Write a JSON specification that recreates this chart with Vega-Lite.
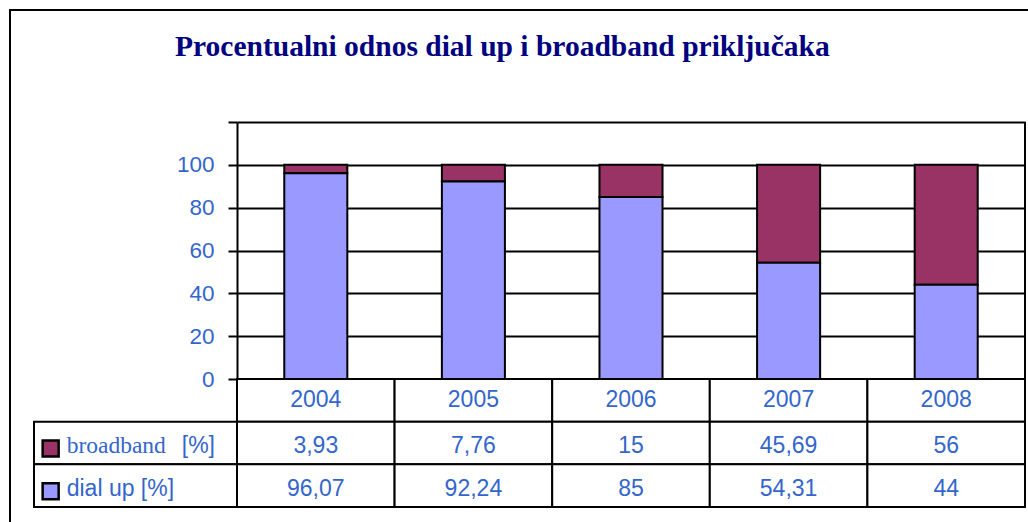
{
  "$schema": "https://vega.github.io/schema/vega-lite/v6.json",
  "width": 1040,
  "height": 530,
  "autosize": {"type": "none"},
  "padding": {"left": 10, "top": 10, "right": -22, "bottom": -18},
  "title": {
    "text": "Procentualni odnos dial up i broadband priključaka",
    "font": "Liberation Serif",
    "fontSize": 29.5,
    "fontWeight": "bold",
    "color": "#000080",
    "anchor": "start",
    "frame": "group",
    "baseline": "alphabetic",
    "offset": -75,
    "dx": 165
  },
  "data": {
    "values": [
      {"year": "2004", "series": "broadband [%]", "value": 3.93},
      {"year": "2004", "series": "dial up [%]", "value": 96.07},
      {"year": "2005", "series": "broadband [%]", "value": 7.76},
      {"year": "2005", "series": "dial up [%]", "value": 92.24},
      {"year": "2006", "series": "broadband [%]", "value": 15},
      {"year": "2006", "series": "dial up [%]", "value": 85},
      {"year": "2007", "series": "broadband [%]", "value": 45.69},
      {"year": "2007", "series": "dial up [%]", "value": 54.31},
      {"year": "2008", "series": "broadband [%]", "value": 56},
      {"year": "2008", "series": "dial up [%]", "value": 44}
    ]
  },
  "resolve": {
    "scale": {"x": "independent", "y": "independent"},
    "axis": {"x": "independent", "y": "independent"}
  },
  "layer": [
    {
      "mark": {"type": "bar", "width": {"band": 0.4}, "stroke": "black", "strokeWidth": 2},
      "encoding": {
        "x": {"field": "year", "type": "nominal", "axis": null,
          "scale": {"type": "band", "domain": ["2004","2005","2006","2007","2008"], "range": [227, 1015], "paddingInner": 0, "paddingOuter": 0}},
        "y": {"field": "value", "type": "quantitative", "stack": "zero",
          "scale": {"domain": [0, 120], "range": [369, 112], "nice": false, "zero": true},
          "axis": {
            "orient": "left", "offset": -227, "title": null,
            "values": [0, 20, 40, 60, 80, 100, 120],
            "labelExpr": "datum.value == 120 ? '' : datum.label",
            "grid": true, "gridColor": "black", "gridWidth": 2, "gridOpacity": 1,
            "domain": true, "domainColor": "black", "domainWidth": 2,
            "ticks": true, "tickColor": "black", "tickWidth": 2, "tickSize": 9,
            "labelFont": "Liberation Sans", "labelFontSize": 22.5, "labelColor": "#3366CC",
            "labelPadding": 14
          }},
        "color": {"field": "series", "type": "nominal", "legend": null,
          "scale": {"domain": ["dial up [%]", "broadband [%]"], "range": ["#9999FF", "#993366"]}},
        "order": {"field": "series", "sort": "descending"}
      }
    },
    {
      "transform": [{"filter": "datum.year == '2004' && datum.series == 'dial up [%]'"}],
      "mark": {"type": "rule", "stroke": "black", "strokeWidth": 2},
      "encoding": {
        "x": {"datum": "2008", "type": "nominal", "bandPosition": 1, "axis": null,
          "scale": {"type": "band", "domain": ["2004","2005","2006","2007","2008"], "range": [227, 1015], "paddingInner": 0, "paddingOuter": 0}},
        "y": {"datum": 0, "type": "quantitative", "axis": null,
          "scale": {"domain": [0, 120], "range": [369, 112], "nice": false, "zero": true}},
        "y2": {"datum": 120}
      }
    },
    {
      "transform": [{"filter": "datum.series == 'dial up [%]'"}],
      "mark": {"type": "rect", "fill": "white", "stroke": "black", "strokeWidth": 2},
      "encoding": {
        "x": {"field": "year", "type": "nominal", "axis": null,
          "scale": {"type": "band", "domain": ["2004","2005","2006","2007","2008"], "range": [227, 1015], "paddingInner": 0, "paddingOuter": 0}},
        "y": {"datum": "hdr", "type": "nominal", "axis": null,
          "scale": {"type": "band", "domain": ["hdr", "broadband [%]", "dial up [%]"], "range": [369, 497], "paddingInner": 0, "paddingOuter": 0}}
      }
    },
    {
      "mark": {"type": "rect", "fill": "white", "stroke": "black", "strokeWidth": 2},
      "encoding": {
        "x": {"field": "year", "type": "nominal", "axis": null,
          "scale": {"type": "band", "domain": ["2004","2005","2006","2007","2008"], "range": [227, 1015], "paddingInner": 0, "paddingOuter": 0}},
        "y": {"field": "series", "type": "nominal", "axis": null,
          "scale": {"type": "band", "domain": ["hdr", "broadband [%]", "dial up [%]"], "range": [369, 497], "paddingInner": 0, "paddingOuter": 0}}
      }
    },
    {
      "transform": [{"filter": "datum.year == '2004'"}],
      "mark": {"type": "rect", "fill": "white", "stroke": "black", "strokeWidth": 2},
      "encoding": {
        "x": {"datum": "legend", "type": "nominal", "axis": null,
          "scale": {"type": "band", "domain": ["legend"], "range": [24, 227], "paddingInner": 0, "paddingOuter": 0}},
        "y": {"field": "series", "type": "nominal", "axis": null,
          "scale": {"type": "band", "domain": ["hdr", "broadband [%]", "dial up [%]"], "range": [369, 497], "paddingInner": 0, "paddingOuter": 0}}
      }
    },
    {
      "mark": {"type": "text", "font": "Liberation Sans", "fontSize": 23, "color": "#3366CC", "align": "center", "baseline": "middle"},
      "encoding": {
        "x": {"field": "year", "type": "nominal", "bandPosition": 0.5, "axis": null,
          "scale": {"type": "band", "domain": ["2004","2005","2006","2007","2008"], "range": [227, 1015], "paddingInner": 0, "paddingOuter": 0}},
        "y": {"field": "series", "type": "nominal", "bandPosition": 0.58, "axis": null,
          "scale": {"type": "band", "domain": ["hdr", "broadband [%]", "dial up [%]"], "range": [369, 497], "paddingInner": 0, "paddingOuter": 0}},
        "text": {"field": "value", "type": "quantitative", "format": "~g"}
      }
    },
    {
      "transform": [{"filter": "datum.series == 'dial up [%]'"}],
      "mark": {"type": "text", "font": "Liberation Sans", "fontSize": 23, "color": "#3366CC", "align": "center", "baseline": "middle"},
      "encoding": {
        "x": {"field": "year", "type": "nominal", "bandPosition": 0.5, "axis": null,
          "scale": {"type": "band", "domain": ["2004","2005","2006","2007","2008"], "range": [227, 1015], "paddingInner": 0, "paddingOuter": 0}},
        "y": {"datum": "hdr", "type": "nominal", "bandPosition": 0.5, "axis": null,
          "scale": {"type": "band", "domain": ["hdr", "broadband [%]", "dial up [%]"], "range": [369, 497], "paddingInner": 0, "paddingOuter": 0}},
        "text": {"field": "year", "type": "nominal"}
      }
    },
    {
      "transform": [{"filter": "datum.year == '2004'"}],
      "mark": {"type": "point", "shape": "square", "filled": true, "size": 256, "opacity": 1, "stroke": "black", "strokeWidth": 2.5},
      "encoding": {
        "x": {"datum": "legend", "type": "nominal", "bandPosition": 0.082, "axis": null,
          "scale": {"type": "band", "domain": ["legend"], "range": [24, 227], "paddingInner": 0, "paddingOuter": 0}},
        "y": {"field": "series", "type": "nominal", "bandPosition": 0.63, "axis": null,
          "scale": {"type": "band", "domain": ["hdr", "broadband [%]", "dial up [%]"], "range": [369, 497], "paddingInner": 0, "paddingOuter": 0}},
        "color": {"field": "series", "type": "nominal", "legend": null,
          "scale": {"domain": ["dial up [%]", "broadband [%]"], "range": ["#9999FF", "#993366"]}}
      }
    },
    {
      "transform": [{"filter": "datum.year == '2004' && datum.series == 'broadband [%]'"}],
      "mark": {"type": "text", "font": "Liberation Serif", "fontSize": 23.5, "color": "#3366CC", "align": "left", "baseline": "middle"},
      "encoding": {
        "x": {"datum": "legend", "type": "nominal", "bandPosition": 0.161, "axis": null,
          "scale": {"type": "band", "domain": ["legend"], "range": [24, 227], "paddingInner": 0, "paddingOuter": 0}},
        "y": {"field": "series", "type": "nominal", "bandPosition": 0.58, "axis": null,
          "scale": {"type": "band", "domain": ["hdr", "broadband [%]", "dial up [%]"], "range": [369, 497], "paddingInner": 0, "paddingOuter": 0}},
        "text": {"value": "broadband"}
      }
    },
    {
      "transform": [{"filter": "datum.year == '2004' && datum.series == 'broadband [%]'"}],
      "mark": {"type": "text", "font": "Liberation Sans", "fontSize": 23, "color": "#3366CC", "align": "left", "baseline": "middle"},
      "encoding": {
        "x": {"datum": "legend", "type": "nominal", "bandPosition": 0.728, "axis": null,
          "scale": {"type": "band", "domain": ["legend"], "range": [24, 227], "paddingInner": 0, "paddingOuter": 0}},
        "y": {"field": "series", "type": "nominal", "bandPosition": 0.58, "axis": null,
          "scale": {"type": "band", "domain": ["hdr", "broadband [%]", "dial up [%]"], "range": [369, 497], "paddingInner": 0, "paddingOuter": 0}},
        "text": {"value": "[%]"}
      }
    },
    {
      "transform": [{"filter": "datum.year == '2004' && datum.series == 'dial up [%]'"}],
      "mark": {"type": "text", "font": "Liberation Sans", "fontSize": 23, "color": "#3366CC", "align": "left", "baseline": "middle"},
      "encoding": {
        "x": {"datum": "legend", "type": "nominal", "bandPosition": 0.161, "axis": null,
          "scale": {"type": "band", "domain": ["legend"], "range": [24, 227], "paddingInner": 0, "paddingOuter": 0}},
        "y": {"field": "series", "type": "nominal", "bandPosition": 0.58, "axis": null,
          "scale": {"type": "band", "domain": ["hdr", "broadband [%]", "dial up [%]"], "range": [369, 497], "paddingInner": 0, "paddingOuter": 0}},
        "text": {"field": "series", "type": "nominal"}
      }
    }
  ],
  "config": {
    "view": {"stroke": "black", "strokeWidth": 2},
    "locale": {"number": {"decimal": ",", "thousands": ".", "grouping": [3], "currency": ["", ""]}}
  }
}
